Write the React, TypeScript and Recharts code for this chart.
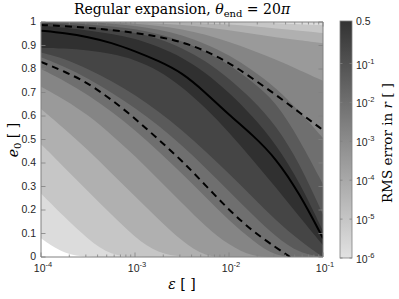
import React from 'react';
import { ComposedChart, Area, Line, XAxis, YAxis } from 'recharts';

// x positions: log10(epsilon)
const U_GRID = [-4, -3.75, -3.5, -3.25, -3, -2.75, -2.5, -2.25, -2, -1.75, -1.5, -1.25, -1];

// lower edge (in e0) of each contour superlevel region, light -> dark
const LOWER_EDGES = [
  [0.08, 0.011, 0, 0, 0, 0, 0, 0, 0, 0, 0, 0, 0],
  [0.27, 0.17, 0.075, 0.005, 0, 0, 0, 0, 0, 0, 0, 0, 0],
  [0.48, 0.38, 0.28, 0.18, 0.083, 0.014, 0, 0, 0, 0, 0, 0, 0],
  [0.63, 0.545, 0.456, 0.356, 0.258, 0.16, 0.067, 0, 0, 0, 0, 0, 0],
  [0.725, 0.67, 0.605, 0.52, 0.43, 0.33, 0.23, 0.13, 0.05, 0, 0, 0, 0],
  [0.8, 0.75, 0.69, 0.62, 0.54, 0.45, 0.355, 0.255, 0.155, 0.07, 0, 0, 0],
  [0.85, 0.81, 0.76, 0.7, 0.635, 0.56, 0.475, 0.38, 0.28, 0.18, 0.085, 0.015, 0],
  [0.87, 0.845, 0.8, 0.75, 0.69, 0.62, 0.54, 0.45, 0.355, 0.255, 0.155, 0.07, 0],
  [0.89, 0.888, 0.88, 0.865, 0.84, 0.795, 0.725, 0.635, 0.53, 0.415, 0.295, 0.17, 0.05],
];

// upper edge (in e0) of each contour superlevel region, light -> dark
const UPPER_EDGES = [
  [1, 1, 1, 1, 1, 1, 1, 1, 1, 1, 1, 1, 1],
  [1, 1, 1, 1, 1, 1, 1, 1, 1, 0.998, 0.995, 0.991, 0.986],
  [1, 1, 1, 1, 1, 1, 0.998, 0.994, 0.99, 0.982, 0.972, 0.963, 0.953],
  [1, 1, 1, 1, 0.998, 0.994, 0.988, 0.978, 0.965, 0.95, 0.935, 0.922, 0.91],
  [1, 1, 1, 0.998, 0.993, 0.984, 0.97, 0.947, 0.915, 0.88, 0.84, 0.795, 0.75],
  [1, 1, 1, 0.993, 0.984, 0.968, 0.945, 0.907, 0.86, 0.795, 0.72, 0.62, 0.506],
  [1, 0.997, 0.99, 0.982, 0.97, 0.95, 0.92, 0.875, 0.82, 0.745, 0.66, 0.5, 0.31],
  [0.998, 0.99, 0.98, 0.968, 0.955, 0.93, 0.89, 0.835, 0.76, 0.67, 0.56, 0.4, 0.18],
  [0.985, 0.976, 0.965, 0.95, 0.93, 0.895, 0.85, 0.785, 0.7, 0.6, 0.48, 0.32, 0.11],
];

const LEVEL_COLORS = ['#dcdcdc', '#c6c6c6', '#b0b0b0', '#9a9a9a', '#858585', '#6f6f6f', '#5a5a5a', '#454545', '#303030'];

const RIDGE = [0.963, 0.953, 0.937, 0.912, 0.876, 0.835, 0.785, 0.7, 0.605, 0.52, 0.42, 0.27, 0.08];
const UPPER_DASH = [0.987, 0.983, 0.975, 0.966, 0.954, 0.938, 0.915, 0.878, 0.827, 0.76, 0.69, 0.615, 0.54];
const LOWER_DASH_U = [-4, -3.75, -3.5, -3.25, -3, -2.75, -2.5, -2.25, -2, -1.75, -1.5, -1.35];
const LOWER_DASH = [0.83, 0.79, 0.74, 0.67, 0.59, 0.5, 0.41, 0.305, 0.2, 0.11, 0.04, 0];

const X_MAJOR = [-4, -3, -2, -1];
const X_MINOR_MULT = [2, 3, 4, 5, 6, 7, 8, 9];
const Y_TICKS = [0, 0.1, 0.2, 0.3, 0.4, 0.5, 0.6, 0.7, 0.8, 0.9, 1];
const CBAR_EXP = [-6, -5, -4, -3, -2, -1];
const CBAR_TOP_LABEL = '0.5';

const SANS = '"Liberation Sans", Arial, sans-serif';
const SERIF = '"DejaVu Serif", "Liberation Serif", serif';
const AX = '#808080';
const TXT = '#262626';

const rows = U_GRID.map((u, i) => {
  const r: any = { u, ridge: RIDGE[i], upperDash: UPPER_DASH[i] };
  LEVEL_COLORS.forEach((_, k) => {
    r['b' + k] = [LOWER_EDGES[k][i], UPPER_EDGES[k][i]];
  });
  return r;
});
const lowerDashRows = LOWER_DASH_U.map((u, i) => ({ u, v: LOWER_DASH[i] }));

const xTicks: number[] = [...X_MAJOR];
X_MAJOR.slice(0, 3).forEach((n) => X_MINOR_MULT.forEach((m) => xTicks.push(n + Math.log10(m))));
xTicks.sort((a, b) => a - b);

const isMajor = (v: number) => Math.abs(v - Math.round(v)) < 1e-6;

function BottomTick(p: any) {
  const { x, y, payload } = p;
  const v = payload.value;
  const maj = isMajor(v);
  return (
    <g>
      <line x1={x} x2={x} y1={y} y2={y - (maj ? 4.5 : 2.5)} stroke={AX} strokeWidth={0.8} />
      {maj && (
        <text x={x + 2} y={y + 14.5} textAnchor="middle" fontSize={10.5} fill={TXT} fontFamily={SANS}>
          <tspan>10</tspan>
          <tspan dy={-5} fontSize={7.5}>{String(Math.round(v))}</tspan>
        </text>
      )}
    </g>
  );
}
function TopTick(p: any) {
  const { x, y, payload } = p;
  const maj = isMajor(payload.value);
  return <line x1={x} x2={x} y1={y} y2={y + (maj ? 4.5 : 2.5)} stroke={AX} strokeWidth={0.8} />;
}
function LeftTick(p: any) {
  const { x, y, payload } = p;
  return (
    <g>
      <line x1={x} x2={x + 4.5} y1={y} y2={y} stroke={AX} strokeWidth={0.8} />
      <text x={x - 5} y={y + 3.4} textAnchor="end" fontSize={10.5} fill={TXT} fontFamily={SANS}>
        {String(payload.value)}
      </text>
    </g>
  );
}
function RightTick(p: any) {
  const { x, y } = p;
  return <line x1={x} x2={x - 4.5} y1={y} y2={y} stroke={AX} strokeWidth={0.8} />;
}

// colorbar geometry
const CB_X = 340;
const CB_W = 12;
const CB_TOP = 21;
const CB_BOT = 258;
const CB_DECADE = 38.9;

const CURVE = 'basis';

export default function App() {
  return (
    <div style={{ position: 'absolute', left: 0, top: 0, width: 399, height: 299, background: '#fff' }}>
      <ComposedChart width={399} height={299} data={rows} margin={{ top: 21, right: 75, bottom: 12, left: 11 }}>
        {LEVEL_COLORS.map((c, k) => (
          <Area
            key={k}
            dataKey={'b' + k}
            type={CURVE}
            stroke="none"
            fill={c}
            fillOpacity={1}
            isAnimationActive={false}
            dot={false}
            activeDot={false}
          />
        ))}
        <Line dataKey="upperDash" type={CURVE} stroke="#000" strokeWidth={2} strokeDasharray="7 5" dot={false} isAnimationActive={false} />
        <Line dataKey="ridge" type={CURVE} stroke="#000" strokeWidth={2} dot={false} isAnimationActive={false} />
        <Line data={lowerDashRows} dataKey="v" type={CURVE} stroke="#000" strokeWidth={2} strokeDasharray="7 5" dot={false} isAnimationActive={false} />
        <XAxis
          dataKey="u"
          type="number"
          domain={[-4, -1]}
          allowDataOverflow
          ticks={xTicks}
          interval={0}
          height={30}
          tickSize={0}
          tickMargin={0}
          tickLine={false}
          axisLine={{ stroke: AX }}
          tick={(p: any) => <BottomTick {...p} />}
        />
        <XAxis
          xAxisId="top"
          orientation="top"
          dataKey="u"
          type="number"
          domain={[-4, -1]}
          allowDataOverflow
          ticks={xTicks}
          interval={0}
          height={1}
          tickSize={0}
          tickMargin={0}
          tickLine={false}
          axisLine={{ stroke: AX }}
          tick={(p: any) => <TopTick {...p} />}
        />
        <YAxis
          type="number"
          domain={[0, 1]}
          allowDataOverflow
          ticks={Y_TICKS}
          interval={0}
          width={30}
          tickSize={0}
          tickMargin={0}
          tickLine={false}
          axisLine={{ stroke: AX }}
          tick={(p: any) => <LeftTick {...p} />}
        />
        <YAxis
          yAxisId="right"
          orientation="right"
          type="number"
          domain={[0, 1]}
          allowDataOverflow
          ticks={Y_TICKS}
          interval={0}
          width={1}
          tickSize={0}
          tickMargin={0}
          tickLine={false}
          axisLine={{ stroke: AX }}
          tick={(p: any) => <RightTick {...p} />}
        />
      </ComposedChart>
      <svg width={399} height={299} style={{ position: 'absolute', left: 0, top: 0, pointerEvents: 'none' }}>
        <defs>
          <linearGradient id="cbg" x1="0" y1="0" x2="0" y2="1">
            <stop offset="0%" stopColor="#333333" />
            <stop offset="100%" stopColor="#e2e2e2" />
          </linearGradient>
        </defs>
        <text x={182} y={14} textAnchor="middle" fontFamily={SERIF} fontSize={14} fill="#000">
          Regular expansion, <tspan fontStyle="italic">θ</tspan>
          <tspan fontSize={10} dy={3}>end</tspan>
          <tspan dy={-3}> = 20</tspan>
          <tspan fontStyle="italic">π</tspan>
        </text>
        <text transform="translate(18,140) rotate(-90)" textAnchor="middle" fontFamily={SERIF} fontSize={14} fill="#000">
          <tspan fontStyle="italic">e</tspan>
          <tspan fontSize={10} dy={3}>0</tspan>
          <tspan dy={-3}> [ ]</tspan>
        </text>
        <text x={182} y={289} textAnchor="middle" fontFamily={SERIF} fontSize={14} fill="#000">
          <tspan fontStyle="italic">ε</tspan> [ ]
        </text>
        <rect x={CB_X} y={CB_TOP} width={CB_W} height={CB_BOT - CB_TOP} fill="url(#cbg)" stroke={AX} strokeWidth={0.8} />
        {CBAR_EXP.map((e) => {
          const y = CB_BOT - (e - CBAR_EXP[0]) * CB_DECADE;
          return (
            <g key={e}>
              <line x1={CB_X} x2={CB_X + 2.5} y1={y} y2={y} stroke={AX} strokeWidth={0.8} />
              <line x1={CB_X + CB_W} x2={CB_X + CB_W - 2.5} y1={y} y2={y} stroke={AX} strokeWidth={0.8} />
              <text x={CB_X + CB_W + 4} y={y + 5} fontSize={10.5} fill={TXT} fontFamily={SANS}>
                <tspan>10</tspan>
                <tspan dy={-5} fontSize={7.5}>{String(e)}</tspan>
              </text>
            </g>
          );
        })}
        <text x={CB_X + CB_W + 4} y={CB_TOP + 3.6} fontSize={10.5} fill={TXT} fontFamily={SANS}>
          {CBAR_TOP_LABEL}
        </text>
        <text transform="translate(392,143) rotate(-90)" textAnchor="middle" fontFamily={SERIF} fontSize={13.5} fill="#000">
          RMS error in <tspan fontStyle="italic">r</tspan> [ ]
        </text>
      </svg>
    </div>
  );
}
